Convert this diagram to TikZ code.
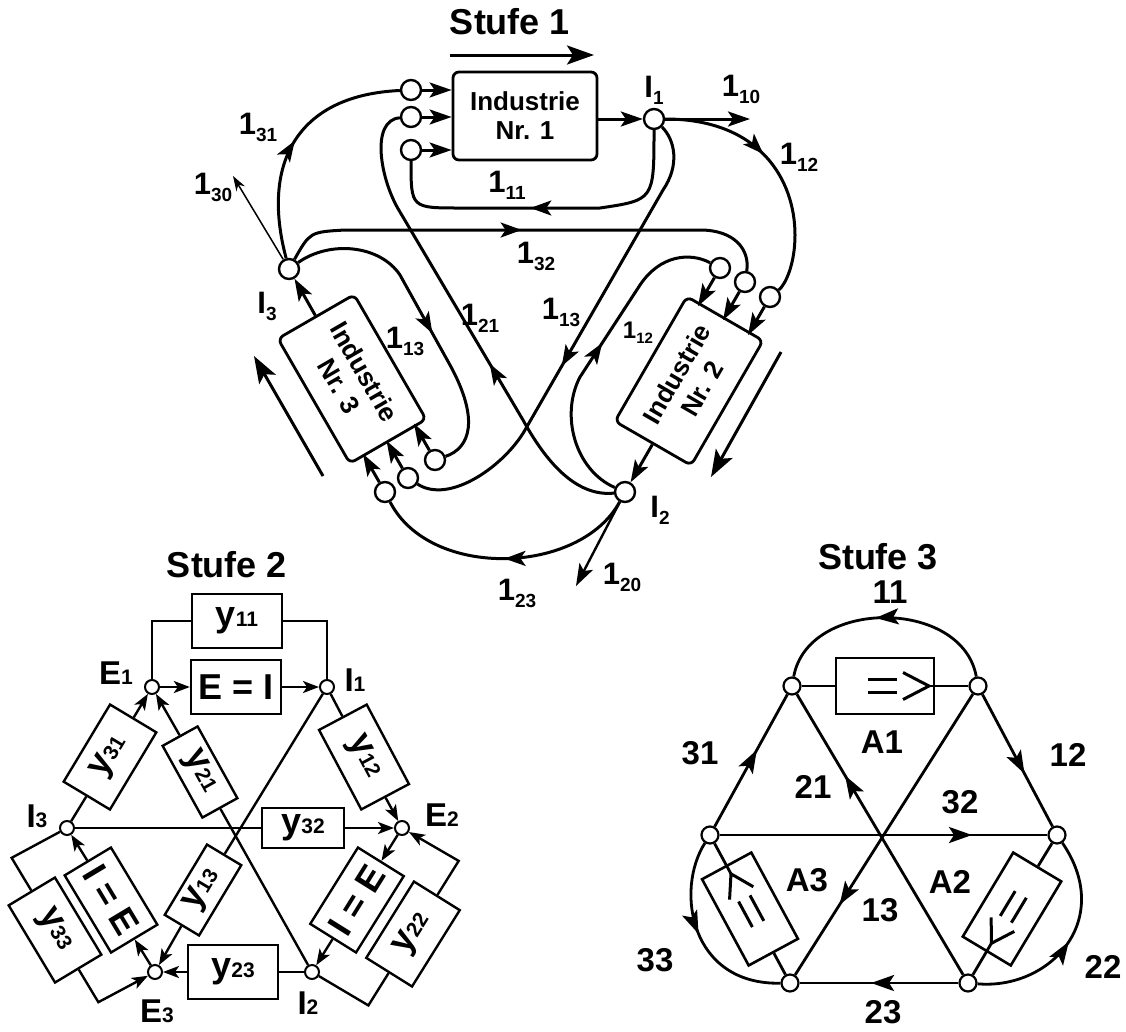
\documentclass[tikz,border=0pt]{standalone}
\usepackage{fontspec}
\setmainfont{Liberation Sans}
\usetikzlibrary{arrows.meta,decorations.markings,calc}

\newcommand{\fsz}[1]{\fontsize{#1}{#1}\selectfont}
\newcommand{\flab}[1]{1\raisebox{-7pt}{\fsz{19}#1}}
\newcommand{\ilab}[1]{I\raisebox{-7pt}{\fsz{19}#1}}
\newcommand{\ysub}[1]{{\fsz{21}#1}}

\tikzset{
  stufe/.style={font=\fsz{36}\bfseries, inner sep=0pt},
  industry/.style={draw, line width=2.8pt, rounded corners=6pt, fill=white,
    minimum width=144pt, minimum height=88pt, align=center, inner sep=0pt,
    font=\fontsize{26}{29}\selectfont\bfseries},
  port/.style={circle, draw, line width=2.4pt, fill=white, minimum size=20pt, inner sep=0pt},
  flow/.style={line width=3pt},
  arr/.style={-{Stealth[length=22pt,width=15pt,inset=5pt]}},
  bigarr/.style={-{Stealth[length=27pt,width=19pt,inset=6pt]}},
  arrowat/.style={postaction={decorate}, decoration={markings,
    mark=at position #1 with {\arrow{Stealth[length=21pt,width=15pt,inset=5pt]}}}},
  flab/.style={font=\fsz{31}\bfseries, inner sep=0pt},
  % Stufe 2
  hubtwo/.style={circle, draw, line width=2pt, fill=white, minimum size=14pt, inner sep=0pt},
  wire/.style={line width=2.4pt},
  sarr/.style={-{Stealth[length=16pt,width=12pt,inset=4pt]}},
  ybox/.style={draw, line width=2.4pt, fill=white, minimum width=90pt, minimum height=54pt,
    inner sep=0pt, font=\fsz{36}\bfseries},
  yslim/.style={ybox, minimum width=82pt, minimum height=40pt},
  slab/.style={font=\fsz{33}\bfseries, inner sep=0pt},
  % Stufe 3
  hub/.style={circle, draw, line width=2.2pt, fill=white, minimum size=17pt, inner sep=0pt},
  edgethree/.style={line width=2.8pt},
  arrowatthree/.style={postaction={decorate}, decoration={markings,
    mark=at position #1 with {\arrow{Stealth[length=23pt,width=16pt,inset=5pt]}}}},
  abox/.style={draw, line width=2.6pt, fill=white, minimum width=98pt, minimum height=56pt, inner sep=0pt},
  sym/.style={line width=3pt},
  numlab/.style={font=\fsz{33}\bfseries, inner sep=0pt},
}

\begin{document}
\begin{tikzpicture}[x=1pt, y=-1pt]
\useasboundingbox (0,0) rectangle (1126,1031);

% Stufe 1: the three industries
\node[stufe] (st1) at (510,22) {Stufe 1};
\coordinate (d1a) at (450,55);
\coordinate (d1b) at (594,55);
\draw[flow, bigarr] (d1a) -- (d1b);

\node[industry] (ind1) at (525,116) {Industrie\\Nr. 1};
\node[industry, rotate=60] (ind2) at (689,381) {Industrie\\Nr. 2};
\node[industry, rotate=-60] (ind3) at (352,379) {Industrie\\Nr. 3};

\coordinate (d2a) at (781,352);
\coordinate (d2b) at (711,477);
\draw[flow, bigarr] (d2a) -- (d2b);
\coordinate (d3a) at (323,476);
\coordinate (d3b) at (254,356);
\draw[flow, bigarr] (d3a) -- (d3b);

% inputs
\node[port] (p11) at (411,90) {};
\node[port] (p12) at (411,117) {};
\node[port] (p13) at (411,150) {};
\node[port] (p21) at (720,268) {};
\node[port] (p22) at (745,282) {};
\node[port] (p23) at (770,297) {};
\node[port] (p31) at (435,460) {};
\node[port] (p32) at (408,478) {};
\node[port] (p33) at (385,492) {};
\draw[flow, arr] (p11) -- (p11 -| ind1.west);
\draw[flow, arr] (p12) -- (p12 -| ind1.west);
\draw[flow, arr] (p13) -- (p13 -| ind1.west);
\draw[flow, arr] (p21) -- ++(-120:44pt);
\draw[flow, arr] (p22) -- ++(-120:44pt);
\draw[flow, arr] (p23) -- ++(-120:44pt);
\draw[flow, arr] (p31) -- ++(120:42pt);
\draw[flow, arr] (p32) -- ++(120:43pt);
\draw[flow, arr] (p33) -- ++(120:44pt);

% outputs
\node[port] (I1) at (654,119) {};
\node[port] (I2) at (625,492) {};
\node[port] (I3) at (289,269) {};
\draw[flow, arr] (ind1.east |- I1) -- (I1);
\draw[flow, arr] (ind2.west) -- (I2);
\draw[flow, arr] (ind3.west) -- (I3);

% flows out of I1
\coordinate (x10) at (750,119);
\draw[flow, arr] (I1) -- (x10);
\draw[flow, arrowat=0.54] (I1) .. controls (654,200) .. (600,208) -- (460,208) .. controls (411,208) .. (p13);
\draw[flow, arrowat=0.42] (I1) .. controls (760,119) and (795,180) .. (795,235) .. controls (795,265) and (785,285) .. (p23);
\draw[flow, arrowat=0.57] (I1) .. controls (675,140) and (680,165) .. (663,190) -- (525,430) .. controls (505,465) and (450,505) .. (p32);

% flows out of I2
\coordinate (x20) at (576,586);
\draw[line width=2.4pt, arr] (I2) -- (x20);
\draw[flow, arrowat=0.40] (I2) .. controls (575,497) and (545,460) .. (523,420) -- (400,212) .. controls (380,180) and (370,120) .. (p12);
\draw[flow, arrowat=0.53] (I2) .. controls (575,470) and (560,415) .. (580,377) -- (640,285) .. controls (660,255) and (690,252) .. (p21);
\draw[flow, arrowat=0.5] (I2) .. controls (580,575) and (430,580) .. (p33);

% flows out of I3
\coordinate (x30) at (233,176);
\draw[line width=1.5pt, -{Stealth[length=15pt,width=10pt]}] (I3) -- (x30);
\draw[flow, arrowat=0.5] (I3) .. controls (260,160) and (300,95) .. (p11);
\draw[flow, arrowat=0.49] (I3) .. controls (310,232) .. (345,230) -- (700,230) .. controls (735,230) and (750,250) .. (p22);
\draw[flow, arrowat=0.56] (I3) .. controls (330,240) and (380,245) .. (400,275) -- (450,365) .. controls (480,420) and (470,448) .. (p31);

% labels
\node[flab] (lI1) at (654,90) {\ilab{1}};
\node[flab] (lI2) at (660,510) {\ilab{2}};
\node[flab] (lI3) at (267,306) {\ilab{3}};
\node[flab] (l10) at (741,89) {\flab{10}};
\node[flab] (l11) at (507,185) {\flab{11}};
\node[flab] (l12) at (799,157) {\flab{12}};
\node[flab] (l13) at (561,312) {\flab{13}};
\node[flab] (l20) at (622,577) {\flab{20}};
\node[flab] (l21) at (480,318) {\flab{21}};
\node[flab, font=\fsz{24}\bfseries] (l22) at (638,333) {1\raisebox{-5pt}{\fsz{15}12}};
\node[flab] (l23) at (517,593) {\flab{23}};
\node[flab] (l30) at (213,187) {\flab{30}};
\node[flab] (l31) at (258,127) {\flab{31}};
\node[flab] (l32) at (536,256) {\flab{32}};
\node[flab] (l33) at (405,341) {\flab{13}};

% Stufe 2: network of E and I nodes
\node[stufe] (st2) at (227,565) {Stufe 2};
\node[hubtwo] (s2E1) at (152,687) {};
\node[hubtwo] (s2I1) at (327,687) {};
\node[hubtwo] (s2E2) at (402,828) {};
\node[hubtwo] (s2I2) at (312,972) {};
\node[hubtwo] (s2E3) at (155,972) {};
\node[hubtwo] (s2I3) at (67,828) {};

\node[ybox] (y11) at (237,621) {y\ysub{11}};
\node[ybox] (eqEI) at (236,687) {E = I};
\node[ybox, rotate=59] (y31) at (110,757) {y\ysub{31}};
\node[ybox, rotate=-62] (y12) at (364,757) {y\ysub{12}};
\node[yslim] (y32) at (303,828) {y\ysub{32}};
\node[yslim, rotate=-61] (y21) at (200,772) {y\ysub{21}};
\node[yslim, rotate=59] (y13) at (203,890) {y\ysub{13}};
\node[ybox] (y23) at (233,972) {y\ysub{23}};
\node[ybox, rotate=58] (eqIE2) at (357,900) {I = E};
\node[ybox, rotate=-59] (eqIE3) at (111,900) {I = E};
\node[ybox, rotate=58] (y22) at (413,934) {y\ysub{22}};
\node[ybox, rotate=-59] (y33) at (55,930) {y\ysub{33}};

\draw[wire] (s2E1) -- (s2E1 |- y11) -- (y11.west);
\draw[wire] (y11.east) -- (s2I1 |- y11) -- (s2I1);
\draw[wire, sarr] (s2E1) -- (eqEI);
\draw[wire, sarr] (eqEI) -- (s2I1);
\draw[wire] (s2I3) -- (y31.west);
\draw[wire, sarr] (y31.east) -- (s2E1);
\draw[wire] (s2I1) -- (y12.west);
\draw[wire, sarr] (y12.east) -- (s2E2);
\draw[wire] (s2I3) -- (y32);
\draw[wire, sarr] (y32) -- (s2E2);
\draw[wire] (s2I2) -- (y21.east);
\draw[wire, sarr] (y21.west) -- (s2E1);
\draw[wire] (s2I1) -- (y13.east);
\draw[wire, sarr] (y13.west) -- (s2E3);
\draw[wire] (s2I2) -- (y23);
\draw[wire, sarr] (y23) -- (s2E3);
\draw[wire, sarr] (s2E2) -- (eqIE2.east);
\draw[wire, sarr] (eqIE2.west) -- (s2I2);
\draw[wire, sarr] (s2E3) -- (eqIE3.east);
\draw[wire, sarr] (eqIE3.west) -- (s2I3);
\coordinate (k22a) at ($(y22.west)+(238:38pt)$);
\coordinate (k22b) at ($(y22.east)+(58:40pt)$);
\draw[wire] (s2I2) -- (k22a) -- (y22.west);
\draw[wire, sarr] (y22.east) -- (k22b) -- (s2E2);
\coordinate (k33a) at ($(y33.west)+(121:38pt)$);
\coordinate (k33b) at ($(y33.east)+(-59:38pt)$);
\draw[wire] (s2I3) -- (k33a) -- (y33.west);
\draw[wire, sarr] (y33.east) -- (k33b) -- (s2E3);

\node[slab] (lE1) at (116,673) {E\ysub{1}};
\node[slab] (ls2I1) at (355,680) {I\ysub{1}};
\node[slab] (lE2) at (442,815) {E\ysub{2}};
\node[slab] (ls2I2) at (308,1003) {I\ysub{2}};
\node[slab] (lE3) at (157,1011) {E\ysub{3}};
\node[slab] (ls2I3) at (37,816) {I\ysub{3}};

% Stufe 3: hexagon with the three A boxes
\node[stufe] (st3) at (878,557) {Stufe 3};
\node[hub] (nA) at (792,686) {};
\node[hub] (nB) at (978,686) {};
\node[hub] (nC) at (1057,835) {};
\node[hub] (nD) at (968,983) {};
\node[hub] (nE) at (790,983) {};
\node[hub] (nF) at (710,835) {};

\draw[edgethree, arrowatthree=0.58] (nF) -- (nA);
\draw[edgethree, arrowatthree=0.60] (nB) -- (nC);
\draw[edgethree, arrowatthree=0.55] (nD) -- (nE);
\draw[edgethree, arrowatthree=0.77] (nF) -- (nC);
\draw[edgethree, arrowatthree=0.71] (nD) -- (nA);
\draw[edgethree, arrowatthree=0.75] (nB) -- (nE);
\draw[edgethree, arrowatthree=0.54] (nB) .. controls (962,598) and (808,598) .. (nA);
\draw[edgethree, arrowatthree=0.50] (nD) .. controls (1050,990) and (1115,920) .. (nC);
\draw[edgethree, arrowatthree=0.48] (nF) .. controls (675,890) and (690,985) .. (nE);

\node[abox] (a1) at (885,686) {};
\node[abox, rotate=118.4] (a3) at (750,909) {};
\node[abox, rotate=-121] (a2) at (1012,909) {};

\begin{scope}[shift={(a1)}]
    \draw[sym] (-17,-6.5) -- (12,-6.5) (-17,6.5) -- (12,6.5);
    \draw[sym] (18,-13.5) -- (44,0) -- (18,13.5);
    \coordinate (a1-tip) at (44,0);
\end{scope}
\begin{scope}[shift={(a3)}, rotate=118.4]
    \draw[sym] (-17,-6.5) -- (12,-6.5) (-17,6.5) -- (12,6.5);
    \draw[sym] (18,-13.5) -- (40,0) -- (18,13.5);
    \coordinate (a3-tip) at (40,0);
\end{scope}
\begin{scope}[shift={(a2)}, rotate=-121]
    \draw[sym] (-17,-6.5) -- (12,-6.5) (-17,6.5) -- (12,6.5);
    \draw[sym] (18,-13.5) -- (40,0) -- (18,13.5);
    \coordinate (a2-tip) at (40,0);
\end{scope}

\draw[edgethree] (nA) -- (a1);
\draw[edgethree] (nB) -- (a1-tip);
\draw[edgethree] (nE) -- (a3);
\draw[edgethree] (nF) -- (a3-tip);
\draw[edgethree] (nC) -- (a2);
\draw[edgethree] (nD) -- (a2-tip);

\node[numlab] (n11) at (890,592) {11};
\node[numlab] (n12) at (1068,755) {12};
\node[numlab] (n31) at (700,753) {31};
\node[numlab] (n21) at (813,787) {21};
\node[numlab] (n32) at (960,802) {32};
\node[numlab] (nA1) at (882,742) {A1};
\node[numlab] (nA3) at (807,880) {A3};
\node[numlab] (nA2) at (950,882) {A2};
\node[numlab] (n13) at (880,910) {13};
\node[numlab] (n23) at (883,1012) {23};
\node[numlab] (n22) at (1103,967) {22};
\node[numlab] (n33) at (655,960) {33};

\end{tikzpicture}
\end{document}
